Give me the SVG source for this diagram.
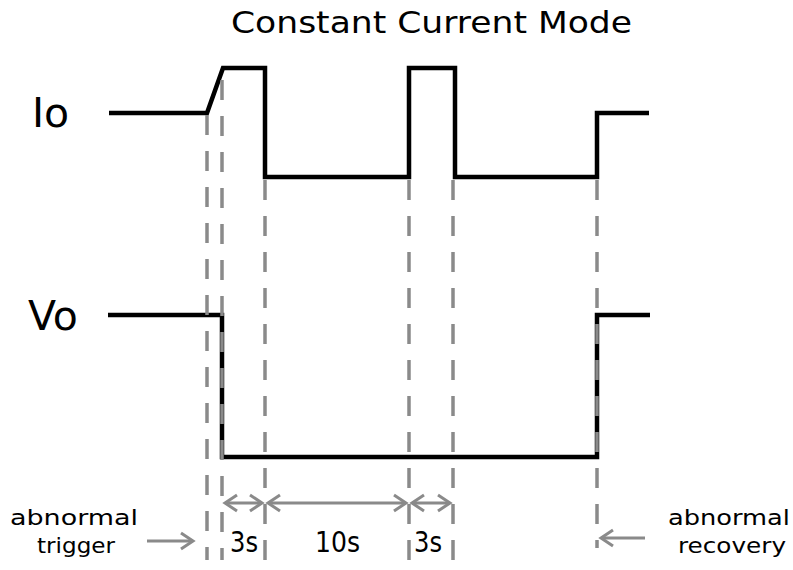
<svg xmlns="http://www.w3.org/2000/svg" width="793" height="570" viewBox="0 0 793 570">
<style>
text { font-family: "DejaVu Sans", "Liberation Sans", sans-serif; fill: #000; }
.wave { fill: none; stroke: #000; stroke-width: 4.5; stroke-linejoin: miter; }
.guide { fill: none; stroke: #8a8a8a; stroke-width: 3.5; stroke-dasharray: 20 16; }
.dim { fill: none; stroke: #8a8a8a; stroke-width: 3; }
.title { font-size: 30px; }
.sig { font-size: 41px; }
.dur { font-size: 29px; }
.note { font-size: 22px; }
</style>
<defs>
<marker id="chev" viewBox="-2 -2 16 20" refX="12" refY="8" markerWidth="16" markerHeight="20" markerUnits="userSpaceOnUse" orient="auto-start-reverse" overflow="visible">
<path d="M0,0 L12,8 L0,16" fill="none" stroke="#8a8a8a" stroke-width="3"/>
</marker>
</defs>
<rect width="793" height="570" fill="#fff"/>
<g id="title"><text class="title" x="231" y="33" textLength="401" lengthAdjust="spacingAndGlyphs">Constant Current Mode</text></g>
<g id="io">
<text class="sig" x="32" y="127">Io</text>
<path class="wave" d="M109,113 L207,113 L223,68 L265,68 L265,177 L409,177 L409,68 L455,68 L455,177 L597,177 L597,113 L649,113"/>
</g>
<g id="vo">
<text class="sig" x="28" y="330">Vo</text>
<path class="wave" d="M108,315 L222,315 L222,457 L597,457 L597,315 L650,315"/>
</g>
<g id="connectors">
<line class="guide" x1="207" y1="115" x2="207" y2="560"/>
<line class="guide" x1="222" y1="80" x2="222" y2="560"/>
<line class="guide" x1="265" y1="180" x2="265" y2="560"/>
<line class="guide" x1="409" y1="180" x2="409" y2="560"/>
<line class="guide" x1="453" y1="180" x2="453" y2="560"/>
<line class="guide" x1="597" y1="180" x2="597" y2="548"/>
<line class="dim" x1="225" y1="503" x2="262" y2="503" marker-start="url(#chev)" marker-end="url(#chev)"/>
<line class="dim" x1="268" y1="503" x2="406" y2="503" marker-start="url(#chev)" marker-end="url(#chev)"/>
<line class="dim" x1="412" y1="503" x2="450" y2="503" marker-start="url(#chev)" marker-end="url(#chev)"/>
<line class="dim" x1="147" y1="541" x2="193" y2="541" marker-end="url(#chev)"/>
<line class="dim" x1="645" y1="538" x2="601" y2="538" marker-end="url(#chev)"/>
</g>
<g id="durations">
<text class="dur" x="230" y="552" textLength="28" lengthAdjust="spacingAndGlyphs">3s</text>
<text class="dur" x="315" y="552" textLength="45" lengthAdjust="spacingAndGlyphs">10s</text>
<text class="dur" x="414" y="552" textLength="28" lengthAdjust="spacingAndGlyphs">3s</text>
</g>
<g id="trigger">
<text class="note" x="10" y="525" textLength="128" lengthAdjust="spacingAndGlyphs">abnormal</text>
<text class="note" x="37" y="553" textLength="78" lengthAdjust="spacingAndGlyphs">trigger</text>
</g>
<g id="recovery">
<text class="note" x="668" y="525" textLength="122" lengthAdjust="spacingAndGlyphs">abnormal</text>
<text class="note" x="678" y="553" textLength="108" lengthAdjust="spacingAndGlyphs">recovery</text>
</g>
</svg>
